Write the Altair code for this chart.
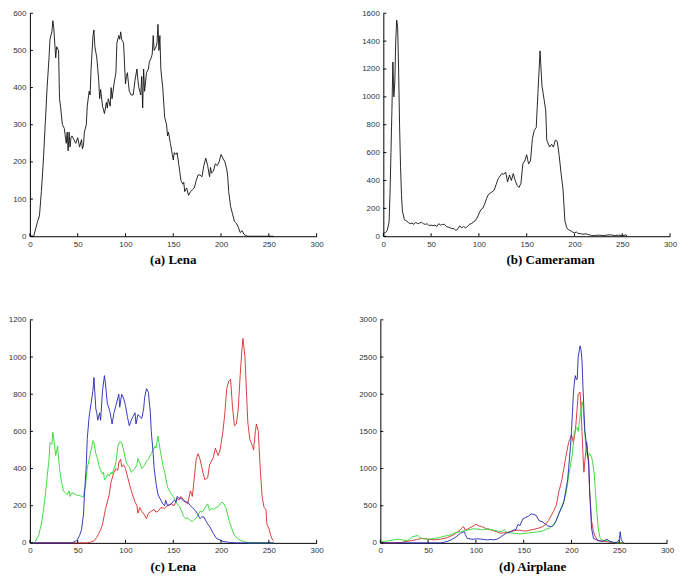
import altair as alt
import pandas as pd

X_TICKS = [0, 50, 100, 150, 200, 250, 300]
Y_TICKS_A = [0, 100, 200, 300, 400, 500, 600]
Y_TICKS_B = [0, 200, 400, 600, 800, 1000, 1200, 1400, 1600]
Y_TICKS_C = [0, 200, 400, 600, 800, 1000, 1200]
Y_TICKS_D = [0, 500, 1000, 1500, 2000, 2500, 3000]

TITLES = ["(a) Lena", "(b) Cameraman", "(c)  Lena", "(d) Airplane"]

LENA_GRAY = [(0,0),(4,0),(6,20),(8,40),(10,55),(12,120),(14,200),(16,300),(18,400),(20,480),(21,530),(23,550),(24,580),(25,560),(27,480),(28,510),(30,500),(31,370),(32,350),(34,300),(36,290),(37,270),(38,250),(39,280),(40,230),(41,280),(42,240),(43,265),(44,270),(46,260),(48,250),(50,265),(52,240),(54,260),(55,235),(56,245),(57,280),(59,300),(60,350),(62,390),(63,380),(64,450),(66,540),(67,555),(68,510),(70,480),(72,420),(73,370),(74,395),(76,350),(78,330),(80,360),(81,345),(82,370),(84,350),(85,400),(86,370),(88,410),(90,440),(91,520),(93,540),(94,530),(95,550),(96,530),(98,520),(100,410),(101,430),(102,440),(104,390),(106,380),(108,380),(110,420),(112,450),(113,420),(114,400),(116,380),(117,430),(118,345),(119,450),(120,390),(122,440),(124,450),(125,470),(127,480),(128,490),(129,540),(130,500),(132,510),(133,520),(134,570),(135,500),(136,540),(137,450),(139,400),(141,320),(143,300),(144,270),(145,280),(147,250),(149,220),(150,205),(151,225),(153,220),(154,225),(156,190),(158,150),(160,140),(161,145),(162,120),(164,130),(166,110),(168,120),(170,125),(172,130),(174,150),(176,165),(178,165),(180,160),(182,190),(184,210),(186,190),(188,160),(189,185),(190,170),(192,175),(194,195),(196,190),(198,200),(200,220),(202,210),(204,200),(206,180),(207,160),(208,120),(210,80),(212,60),(214,40),(216,35),(218,25),(220,10),(222,15),(224,5),(226,2),(228,0),(240,0),(255,0)]

CAMERAMAN = [(0,20),(2,25),(4,40),(6,100),(7,300),(8,600),(9,900),(10,1250),(11,1000),(12,1100),(13,1400),(14,1550),(15,1500),(16,1200),(17,800),(18,500),(19,300),(20,180),(22,120),(24,110),(26,100),(28,90),(30,95),(32,85),(34,100),(36,90),(38,95),(40,100),(42,90),(44,85),(46,90),(48,75),(50,80),(52,75),(54,80),(56,70),(58,90),(60,80),(62,85),(64,85),(66,70),(68,65),(70,60),(72,55),(74,55),(76,40),(78,55),(80,75),(82,60),(84,70),(86,60),(88,70),(90,85),(92,90),(94,100),(96,110),(98,130),(100,160),(102,190),(104,200),(106,230),(108,270),(110,300),(112,310),(114,320),(116,330),(118,370),(120,410),(122,430),(124,450),(126,445),(128,460),(130,390),(132,440),(134,400),(136,450),(138,400),(140,365),(142,350),(144,380),(146,520),(148,540),(150,585),(152,520),(154,540),(156,700),(158,760),(160,780),(162,1060),(164,1330),(166,1080),(168,990),(170,900),(171,690),(174,640),(176,660),(178,640),(180,690),(182,680),(184,580),(186,450),(188,340),(190,110),(192,60),(194,45),(196,40),(198,30),(200,25),(202,30),(204,20),(206,20),(208,15),(210,15),(212,18),(214,12),(216,10),(218,5),(220,5),(222,6),(226,8),(230,5),(234,8),(238,10),(242,5),(246,8),(250,4),(254,10),(255,0)]

LENA_R = [(0,0),(60,0),(64,5),(67,10),(70,30),(72,50),(74,70),(76,100),(79,180),(81,220),(83,260),(85,330),(88,380),(90,400),(92,390),(93,430),(95,450),(96,410),(98,420),(100,400),(102,360),(105,300),(108,250),(110,220),(112,200),(113,160),(115,190),(117,170),(120,150),(122,130),(124,160),(127,170),(130,180),(132,165),(134,170),(137,190),(141,185),(144,200),(148,210),(151,200),(154,240),(156,230),(158,250),(161,230),(165,210),(168,280),(170,250),(172,350),(174,450),(176,480),(178,450),(181,380),(183,340),(186,350),(188,420),(192,460),(194,510),(197,470),(199,500),(202,600),(204,700),(206,830),(208,870),(210,880),(212,730),(214,630),(216,640),(218,720),(220,900),(222,1050),(223,1100),(225,1000),(228,650),(230,560),(233,520),(234,500),(236,600),(237,640),(239,600),(241,400),(243,250),(245,190),(247,180),(248,100),(250,80),(252,40),(254,15),(255,10)]

LENA_G = [(0,0),(4,0),(6,10),(9,40),(12,100),(14,170),(16,250),(18,350),(20,450),(21,540),(23,530),(24,595),(25,560),(27,470),(29,520),(31,400),(33,330),(35,280),(37,270),(39,260),(41,280),(42,250),(44,270),(46,265),(48,260),(50,255),(52,255),(54,250),(56,245),(57,280),(58,300),(60,400),(62,450),(64,500),(66,550),(67,540),(69,480),(71,450),(72,420),(74,390),(76,370),(77,380),(78,340),(80,350),(81,370),(83,360),(85,380),(86,370),(88,400),(90,430),(92,520),(94,545),(96,540),(98,500),(100,450),(102,420),(104,410),(106,380),(108,390),(110,400),(112,420),(113,455),(115,430),(117,400),(119,410),(120,420),(122,440),(124,450),(127,480),(129,500),(131,520),(132,510),(134,575),(135,540),(137,480),(139,420),(141,380),(144,300),(147,270),(150,250),(152,230),(154,210),(156,200),(158,180),(161,140),(163,130),(165,135),(168,120),(170,115),(172,125),(175,140),(178,170),(180,165),(182,180),(186,210),(188,175),(190,185),(192,180),(195,190),(197,195),(199,210),(201,220),(203,210),(205,190),(207,150),(209,110),(211,80),(214,40),(217,25),(220,15),(223,10),(226,3),(230,0),(255,0)]

LENA_B = [(0,0),(44,0),(46,5),(48,10),(50,20),(52,40),(54,70),(56,150),(57,250),(59,420),(60,560),(62,680),(64,750),(66,820),(67,890),(69,720),(70,700),(71,660),(73,700),(74,660),(76,820),(78,900),(79,860),(81,750),(83,720),(84,700),(86,640),(88,700),(90,740),(92,780),(93,800),(94,730),(96,800),(98,780),(100,740),(102,680),(104,630),(106,660),(108,680),(110,700),(111,640),(113,690),(115,680),(117,670),(119,720),(120,780),(122,830),(124,810),(126,700),(127,600),(129,480),(130,400),(132,320),(134,260),(136,240),(137,230),(139,210),(141,200),(142,230),(144,200),(146,205),(148,210),(151,230),(153,220),(154,250),(156,240),(158,240),(160,230),(161,225),(163,220),(165,220),(168,200),(170,190),(172,180),(175,160),(178,130),(180,140),(182,140),(185,110),(189,80),(192,50),(195,25),(199,15),(202,8),(209,2),(216,0),(255,0)]

AIR_R = [(0,0),(15,0),(22,5),(27,20),(33,30),(38,45),(43,60),(50,50),(57,40),(63,50),(70,70),(77,110),(81,150),(84,180),(87,220),(89,170),(92,190),(95,210),(100,250),(103,230),(106,220),(111,190),(115,180),(119,160),(122,150),(125,130),(129,135),(132,140),(136,150),(139,160),(143,170),(146,170),(150,160),(153,160),(156,170),(160,180),(163,190),(166,200),(170,220),(173,250),(176,300),(178,350),(181,420),(184,500),(187,700),(190,850),(192,1000),(194,1150),(197,1350),(200,1450),(202,1350),(204,1500),(205,1650),(207,2000),(209,2030),(210,1800),(211,1500),(212,1200),(213,950),(214,1100),(216,1350),(218,1100),(219,700),(221,300),(223,150),(225,80),(228,30),(235,20),(242,5),(249,0),(255,0)]

AIR_G = [(0,20),(5,20),(9,30),(14,40),(19,50),(23,40),(28,30),(31,50),(33,80),(36,90),(39,100),(41,80),(43,60),(47,55),(50,50),(54,55),(57,60),(61,70),(64,80),(67,90),(71,100),(74,110),(77,130),(80,140),(84,150),(87,160),(91,170),(94,180),(98,190),(101,185),(105,180),(108,175),(112,190),(115,180),(119,170),(122,160),(125,150),(128,160),(130,180),(132,140),(135,135),(139,130),(142,125),(146,120),(149,125),(153,130),(156,135),(160,140),(163,145),(166,150),(170,160),(173,180),(177,200),(180,230),(182,260),(184,300),(187,400),(190,500),(192,560),(194,650),(196,800),(197,900),(199,1050),(201,1200),(203,1500),(205,1540),(206,1550),(207,1500),(208,1600),(209,1700),(211,1900),(212,1850),(213,1650),(215,1300),(216,1200),(217,1150),(219,1200),(221,1150),(222,1100),(224,900),(225,700),(226,500),(228,200),(230,60),(233,30),(238,30),(242,10),(249,0),(255,0)]

AIR_B = [(0,0),(63,0),(67,10),(70,20),(74,40),(78,70),(81,100),(84,130),(86,140),(88,150),(89,110),(91,60),(95,50),(98,50),(102,55),(105,50),(109,45),(112,40),(116,45),(119,40),(122,50),(125,70),(128,100),(132,130),(136,150),(139,170),(142,180),(144,250),(146,230),(149,320),(152,340),(155,360),(158,390),(161,380),(163,370),(166,300),(168,290),(170,280),(173,250),(175,230),(178,220),(180,220),(182,250),(184,300),(187,400),(190,480),(192,550),(194,700),(196,850),(197,1000),(199,1300),(200,1500),(202,2000),(203,2150),(204,2250),(205,2200),(206,2200),(207,2500),(209,2650),(210,2600),(211,2450),(212,2100),(213,1800),(214,1500),(215,1400),(216,1300),(218,1050),(219,700),(221,200),(223,60),(228,30),(233,20),(235,35),(237,50),(240,20),(245,5),(248,10),(250,40),(251,150),(252,50),(254,0),(255,0)]

BLACK = "#111111"
RED = "#d42a2a"
GREEN = "#2ed82e"
BLUE = "#2424b8"

W = 288
H = 224

label_font = "Liberation Sans"


def panel(series, ymax, yticks, title, dx=0):
    xs = alt.Scale(domain=[0, 300], nice=False, zero=False)
    ys = alt.Scale(domain=[0, ymax], nice=False)
    common = dict(grid=False, ticks=False, domainColor="black", labelFont=label_font,
                  labelFontSize=8, labelColor="#333333", labelPadding=4,
                  labelFlush=False, title=None, format="d")
    xaxis = alt.Axis(values=X_TICKS, **common)
    yaxis = alt.Axis(values=yticks, **common)
    layers = []
    for pts, color in series:
        df = pd.DataFrame(pts, columns=["level", "count"])
        layers.append(
            alt.Chart(df).mark_line(color=color, strokeWidth=0.9).encode(
                x=alt.X("level:Q", scale=xs, axis=xaxis),
                y=alt.Y("count:Q", scale=ys, axis=yaxis))
        )
    xt = alt.Chart(pd.DataFrame({"level": X_TICKS})).mark_rule(color="black", strokeWidth=1).encode(
        x=alt.X("level:Q", scale=xs, axis=xaxis), y=alt.value(H), y2=alt.value(H - 3))
    yt = alt.Chart(pd.DataFrame({"count": yticks})).mark_rule(color="black", strokeWidth=1).encode(
        y=alt.Y("count:Q", scale=ys, axis=yaxis), x=alt.value(0), x2=alt.value(3))
    layers += [xt, yt]
    return alt.layer(*layers).properties(
        width=W, height=H,
        title=alt.TitleParams(title, orient="bottom", font="Liberation Serif", fontSize=13,
                              fontWeight="bold", color="black", offset=6, dx=dx, anchor="middle"),
    )


a = panel([(LENA_GRAY, BLACK)], 600, Y_TICKS_A, TITLES[0])
b = panel([(CAMERAMAN, BLACK)], 1600, Y_TICKS_B, TITLES[1], dx=24)
c = panel([(LENA_R, RED), (LENA_G, GREEN), (LENA_B, BLUE)], 1200, Y_TICKS_C, TITLES[2])
d = panel([(AIR_R, RED), (AIR_G, GREEN), (AIR_B, BLUE)], 3000, Y_TICKS_D, TITLES[3], dx=9)

top = alt.hconcat(a, b, spacing=67, bounds="flush")
bottom = alt.hconcat(c, d, spacing=64, bounds="flush")
chart = alt.vconcat(top, bottom, spacing=49).properties(padding=0).configure_view(stroke=None)

chart.save("out.html", embed_options={"renderer": "svg", "actions": False})
